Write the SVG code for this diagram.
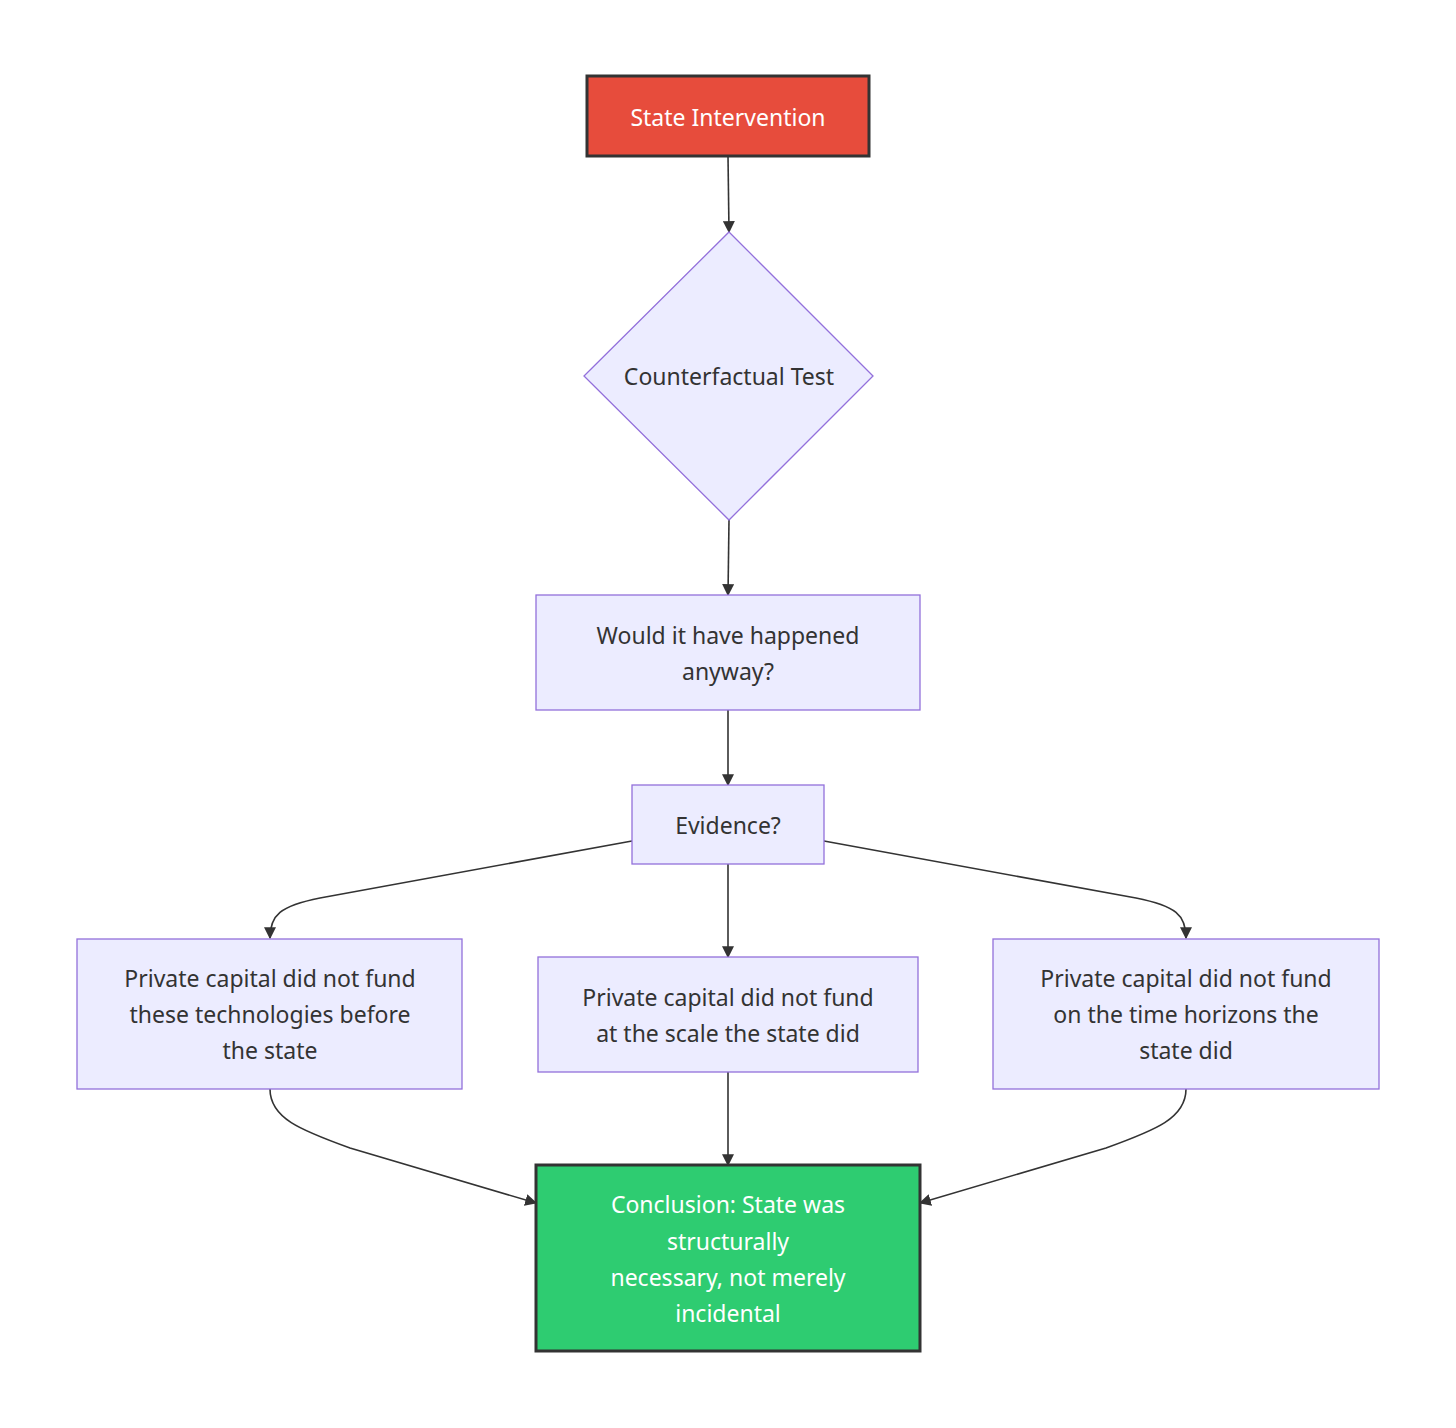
<svg xmlns="http://www.w3.org/2000/svg" width="1456" height="1428" viewBox="0 0 1456 1428">
<style>
text{font-family:"Noto Sans","Liberation Sans",sans-serif;font-size:23px;text-anchor:middle;dominant-baseline:central;fill:#333}
.n{fill:#ECECFF;stroke:#9370DB;stroke-width:1.3}
.w{fill:#fff}
.e{fill:none;stroke:#333;stroke-width:1.6}
</style>
<defs>
<marker id="a" viewBox="0 0 10 10" refX="9" refY="5" markerWidth="12" markerHeight="12" markerUnits="userSpaceOnUse" orient="auto">
<path d="M0,0 L10,5 L0,10 z" fill="#333"/>
</marker>
</defs>
<rect width="1456" height="1428" fill="#fff"/>
<g id="edges">
<path class="e" d="M728,156 L729,232" marker-end="url(#a)"/>
<path class="e" d="M729,520 L728,595" marker-end="url(#a)"/>
<path class="e" d="M728,710 L728,785" marker-end="url(#a)"/>
<path class="e" d="M632,841 L320,898 C280,906 270,915 270,938" marker-end="url(#a)"/>
<path class="e" d="M728,864 L728,957" marker-end="url(#a)"/>
<path class="e" d="M824,841 L1136,898 C1176,906 1186,915 1186,938" marker-end="url(#a)"/>
<path class="e" d="M270,1089 C270,1118 300,1130 350,1148 L536,1203" marker-end="url(#a)"/>
<path class="e" d="M728,1072 L728,1165" marker-end="url(#a)"/>
<path class="e" d="M1186,1089 C1186,1118 1156,1130 1106,1148 L920,1203" marker-end="url(#a)"/>
</g>
<g id="start">
<rect x="587" y="76" width="282" height="80" fill="#E74C3C" stroke="#333" stroke-width="3"/>
<text class="w" x="728" y="117">State Intervention</text>
</g>
<g id="test">
<polygon class="n" points="729,232 873,376 729,520 584,376"/>
<text x="729" y="376">Counterfactual Test</text>
</g>
<g id="q">
<rect class="n" x="536" y="595" width="384" height="115"/>
<text x="728" y="635">Would it have happened</text>
<text x="728" y="671">anyway?</text>
</g>
<g id="evidence">
<rect class="n" x="632" y="785" width="192" height="79"/>
<text x="728" y="825">Evidence?</text>
</g>
<g id="e1">
<rect class="n" x="77" y="939" width="385" height="150"/>
<text x="270" y="978">Private capital did not fund</text>
<text x="270" y="1014">these technologies before</text>
<text x="270" y="1050">the state</text>
</g>
<g id="e2">
<rect class="n" x="538" y="957" width="380" height="115"/>
<text x="728" y="997">Private capital did not fund</text>
<text x="728" y="1033">at the scale the state did</text>
</g>
<g id="e3">
<rect class="n" x="993" y="939" width="386" height="150"/>
<text x="1186" y="978">Private capital did not fund</text>
<text x="1186" y="1014">on the time horizons the</text>
<text x="1186" y="1050">state did</text>
</g>
<g id="conclusion">
<rect x="536" y="1165" width="384" height="186" fill="#2ECC71" stroke="#333" stroke-width="3"/>
<text class="w" x="728" y="1204">Conclusion: State was</text>
<text class="w" x="728" y="1241">structurally</text>
<text class="w" x="728" y="1277">necessary, not merely</text>
<text class="w" x="728" y="1313">incidental</text>
</g>
</svg>
